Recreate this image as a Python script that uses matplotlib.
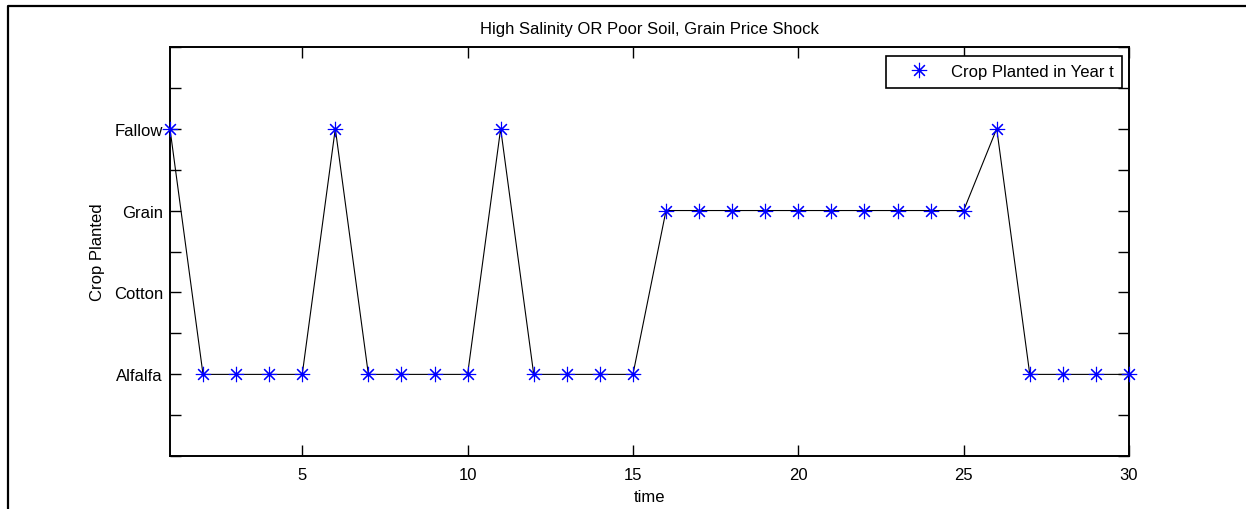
import numpy as np
import matplotlib
matplotlib.use("Agg")
import matplotlib.pyplot as plt
from matplotlib.lines import Line2D

plt.rcParams['font.family'] = ['Liberation Sans', 'DejaVu Sans']

# crop codes: 1=Alfalfa, 2=Cotton, 3=Grain, 4=Fallow
years = list(range(1, 31))
crop = [4, 1, 1, 1, 1, 4, 1, 1, 1, 1,
        4, 1, 1, 1, 1, 3, 3, 3, 3, 3,
        3, 3, 3, 3, 3, 4, 1, 1, 1, 1]
crop_names = ['Alfalfa', 'Cotton', 'Grain', 'Fallow']
x_ticks = [5, 10, 15, 20, 25, 30]

fs = 12

fig = plt.figure(figsize=(12.46, 5.10), dpi=100)
ax = fig.add_axes([0.1364, 0.1033, 0.7697, 0.8032])

# line first, markers on top
ax.plot(years, crop, color='black', lw=0.8, zorder=2)
ax.plot(years, crop, linestyle='none', marker=(8, 2, 0), markersize=11,
        markeredgewidth=0.8, color='blue', label='Crop Planted in Year t',
        zorder=3, clip_on=False)

ax.set_xlim(1, 30)
ax.set_ylim(0, 5)
ax.set_xticks(x_ticks)
yt = np.arange(0, 5.01, 0.5)
ax.set_yticks(yt)
ax.set_yticklabels([crop_names[int(v) - 1] if v in (1, 2, 3, 4) else '' for v in yt])

ax.tick_params(direction='in', length=8, width=1, top=True, right=True,
               labelsize=fs, pad=5)
ax.tick_params(axis='x', pad=8)
for s in ax.spines.values():
    s.set_linewidth(1.4)

ax.set_title('High Salinity OR Poor Soil, Grain Price Shock', fontsize=fs, pad=10)
ax.set_xlabel('time', fontsize=fs, labelpad=5)
ax.set_ylabel('Crop Planted', fontsize=fs, labelpad=6)

leg = ax.legend(loc='upper right', bbox_to_anchor=(0.9927, 0.9773),
                fontsize=fs, fancybox=False, framealpha=1,
                edgecolor='black', borderaxespad=0, handlelength=3.0,
                handletextpad=0.4, borderpad=0.5)
leg.get_frame().set_linewidth(1.2)

# outer figure border (top and left)
fig.add_artist(Line2D([8 / 1246, 8 / 1246, 1.0], [0.0, 1 - 7 / 510, 1 - 7 / 510],
                      transform=fig.transFigure, color='black', lw=1.6))

fig.savefig('out.png', dpi=100)
